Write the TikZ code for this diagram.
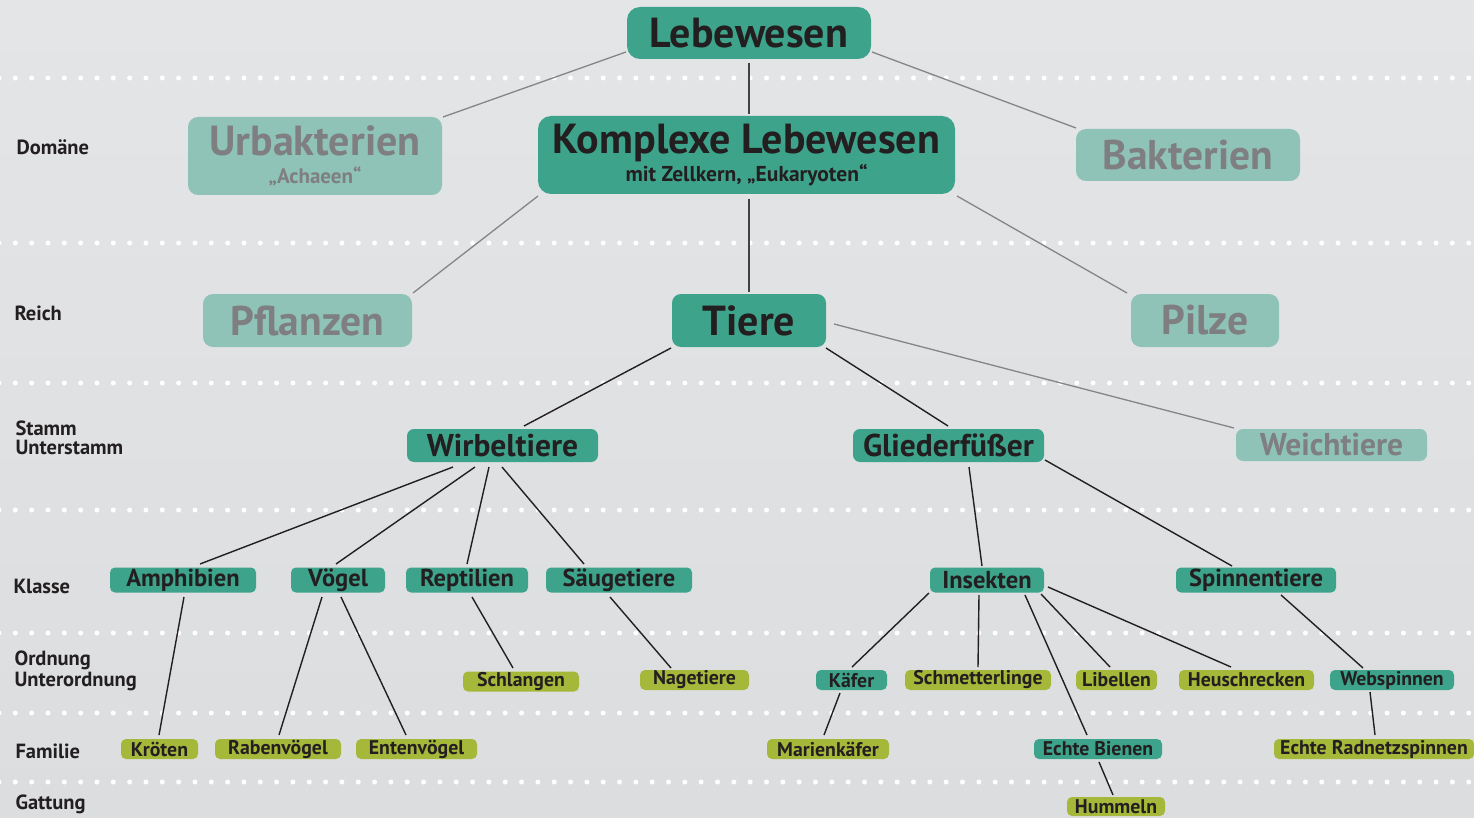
\documentclass[tikz,border=0pt]{standalone}
\usepackage{fontspec}
\setmainfont{PT Sans}
\usetikzlibrary{positioning}

\definecolor{bgtop}{HTML}{E4E5E7}
\definecolor{bgbot}{HTML}{DCDDDF}
\definecolor{teal}{HTML}{3DA38B}
\definecolor{tealpale}{HTML}{8FC3B7}
\definecolor{olive}{HTML}{A5B83A}
\definecolor{ink}{HTML}{231F20}
\definecolor{fade}{HTML}{7F7E80}
\definecolor{wire}{HTML}{858585}

\newcommand\fs[2][]{\fontsize{#2}{#2}\selectfont\bfseries}

\begin{document}
\begin{tikzpicture}[x=1pt,y=-1pt,
  box/.style={rounded corners=5pt,inner sep=0pt,align=center,text=ink},
  top/.style={box,fill=teal,rounded corners=13pt,font=\fs{42}},
  pale/.style={box,fill=tealpale,rounded corners=10pt,text=fade,font=\fs{41.5}},
  stem/.style={box,fill=teal,rounded corners=7pt,font=\fs{31.5}},
  palestem/.style={box,fill=tealpale,rounded corners=7pt,text=fade,font=\fs{31.5}},
  cls/.style={box,fill=teal,minimum height=25pt,font=\fs{24.5}},
  tlow/.style={box,fill=teal,minimum height=20pt,font=\fs{19.8}},
  glow/.style={box,fill=olive,minimum height=20pt,font=\fs{19.8}},
  rank/.style={anchor=west,align=left,text=ink,font=\fontsize{20.5}{18.5}\selectfont\bfseries},
  dk/.style={draw=ink,line width=1.4pt},
  mid/.style={draw=ink!85,line width=2pt},
  lt/.style={draw=wire,line width=1.3pt},
  dots/.style={draw=white,line width=5pt,line cap=round,dash pattern=on 0pt off 16.33pt}]

  % background and rank separators
  \shade[top color=bgtop,bottom color=bgbot] (0,0) rectangle (1474,818);
  \useasboundingbox (0,0) rectangle (1474,818);
  \foreach \yy in {78,243,383,510,633,713,782}
    \draw[dots] (-1,\yy) -- (1480,\yy);

  % ranks
  \node[rank] (rDom) at (13,147) {Domäne};
  \node[rank] (rRei) at (11,313) {Reich};
  \node[rank] (rSta) at (12,438) {Stamm\\Unterstamm};
  \node[rank] (rKla) at (10,586) {Klasse};
  \node[rank] (rOrd) at (11,671) {Ordnung\\[1.5pt]Unterordnung};
  \node[rank] (rFam) at (12,751) {Familie};
  \node[rank] (rGat) at (12,804) {Gattung};

  % domain and kingdom
  \node[top,minimum width=244pt,minimum height=52pt] (leb) at (749,33) {Lebewesen};
  \node[pale,minimum width=254pt,minimum height=78pt] (urb) at (315,156)
    {\fs{42}Urbakterien\\[-14pt]{\fs{21}„Achaeen“}};
  \node[top,minimum width=417pt,minimum height=78pt] (komp) at (746.5,155)
    {\fs{42}Komplexe Lebewesen\\[-14pt]{\fs{21.5}mit Zellkern, „Eukaryoten“}};
  \node[pale,minimum width=224pt,minimum height=52pt] (bak) at (1188,155) {Bakterien};
  \node[pale,minimum width=209pt,minimum height=53pt] (pfl) at (307.5,320.5) {Pflanzen};
  \node[top,rounded corners=9pt,minimum width=154pt,minimum height=53pt] (tiere) at (749,320.5) {Tiere};
  \node[pale,minimum width=148pt,minimum height=53pt] (pilze) at (1205,320.5) {Pilze};

  % phylum
  \node[stem,minimum width=191pt,minimum height=33pt] (wirb) at (502.5,445.5) {Wirbeltiere};
  \node[stem,minimum width=191pt,minimum height=33pt] (glied) at (948.5,445.5) {Gliederfüßer};
  \node[palestem,minimum width=191pt,minimum height=32pt] (weich) at (1331.5,445) {Weichtiere};

  % class
  \node[cls,minimum width=146pt] (amph) at (183,580) {Amphibien};
  \node[cls,minimum width=94pt] (voeg) at (338,580) {Vögel};
  \node[cls,minimum width=122pt] (rept) at (467,580) {Reptilien};
  \node[cls,minimum width=146pt] (saeug) at (619,580) {Säugetiere};
  \node[cls,minimum width=114pt] (ins) at (987,580) {Insekten};
  \node[cls,minimum width=160pt] (spinn) at (1256,580) {Spinnentiere};

  % order
  \node[glow,minimum width=116pt] (schl) at (521,681.5) {Schlangen};
  \node[glow,minimum width=109pt] (nage) at (694.5,680) {Nagetiere};
  \node[tlow,minimum width=71pt] (kaefer) at (851.5,680) {Käfer};
  \node[glow,minimum width=146pt] (schm) at (978,680) {Schmetterlinge};
  \node[glow,minimum width=81pt] (lib) at (1116.5,680) {Libellen};
  \node[glow,minimum width=135pt] (heu) at (1246.5,680) {Heuschrecken};
  \node[tlow,minimum width=124pt] (web) at (1392,680) {Webspinnen};

  % family and genus
  \node[glow,minimum width=77pt] (kroet) at (159.5,749) {Kröten};
  \node[glow,minimum width=126pt] (raben) at (278,749) {Rabenvögel};
  \node[glow,minimum width=121pt] (enten) at (416.5,749) {Entenvögel};
  \node[glow,minimum width=122pt] (mari) at (828,749) {Marienkäfer};
  \node[tlow,minimum width=128pt] (bien) at (1098,749) {Echte Bienen};
  \node[glow,minimum width=200pt] (radn) at (1374,749) {Echte Radnetzspinnen};
  \node[glow,minimum width=98pt,minimum height=19pt] (humm) at (1116,806.5) {Hummeln};

  % connectors
  \draw[lt] ([shift={(-123,19)}]leb.center) -- ([shift={(128,-39)}]urb.center);
  \draw[mid] ([shift={(0,30)}]leb.center) -- ([shift={(2.5,-41)}]komp.center);
  \draw[lt] ([shift={(123,19)}]leb.center) -- ([shift={(-112,-27)}]bak.center);
  \draw[lt] ([shift={(-208.5,41)}]komp.center) -- ([shift={(105.5,-27.5)}]pfl.center);
  \draw[mid] ([shift={(2.5,44)}]komp.center) -- ([shift={(0,-28.5)}]tiere.center);
  \draw[lt] ([shift={(210.5,41)}]komp.center) -- ([shift={(-78,-27.5)}]pilze.center);
  \draw[dk] ([shift={(-78,27.5)}]tiere.center) -- ([shift={(21.5,-19.5)}]wirb.center);
  \draw[dk] ([shift={(77,27.5)}]tiere.center) -- ([shift={(-0.5,-19.5)}]glied.center);
  \draw[lt] ([shift={(85,3.5)}]tiere.center) -- ([shift={(-97.5,-17)}]weich.center);
  \draw[dk] ([shift={(-49.5,21.5)}]wirb.center) -- ([shift={(17,-16)}]amph.center);
  \draw[dk] ([shift={(-27.5,21.5)}]wirb.center) -- ([shift={(-2,-16)}]voeg.center);
  \draw[dk] ([shift={(-13.5,21.5)}]wirb.center) -- ([shift={(0,-16)}]rept.center);
  \draw[dk] ([shift={(-0.5,21.5)}]wirb.center) -- ([shift={(-35,-16)}]saeug.center);
  \draw[dk] ([shift={(1,17)}]amph.center) -- ([shift={(-0.5,-14)}]kroet.center);
  \draw[dk] ([shift={(-16,17)}]voeg.center) -- ([shift={(1,-14)}]raben.center);
  \draw[dk] ([shift={(3,17)}]voeg.center) -- ([shift={(-10.5,-14)}]enten.center);
  \draw[dk] ([shift={(5,17)}]rept.center) -- ([shift={(-8,-13.5)}]schl.center);
  \draw[dk] ([shift={(-9,17)}]saeug.center) -- ([shift={(-23.5,-12)}]nage.center);
  \draw[dk] ([shift={(20.5,21.5)}]glied.center) -- ([shift={(-5,-14)}]ins.center);
  \draw[dk] ([shift={(96.5,14.5)}]glied.center) -- ([shift={(-24,-14)}]spinn.center);
  \draw[dk] ([shift={(-58,13)}]ins.center) -- ([shift={(0.5,-13)}]kaefer.center);
  \draw[dk] ([shift={(-8,15)}]ins.center) -- ([shift={(0,-13)}]schm.center);
  \draw[dk] ([shift={(38,15)}]ins.center) -- ([shift={(-11,-14)}]bien.center);
  \draw[dk] ([shift={(54,14)}]ins.center) -- ([shift={(-6.5,-13)}]lib.center);
  \draw[dk] ([shift={(61,7)}]ins.center) -- ([shift={(-15.5,-13)}]heu.center);
  \draw[dk] ([shift={(25,15)}]spinn.center) -- ([shift={(-29,-12)}]web.center);
  \draw[dk] ([shift={(-11.5,13)}]kaefer.center) -- ([shift={(-4,-14)}]mari.center);
  \draw[dk] ([shift={(-22,12)}]web.center) -- ([shift={(1,-14)}]radn.center);
  \draw[dk] ([shift={(1,13)}]bien.center) -- ([shift={(-3,-11.5)}]humm.center);
\end{tikzpicture}
\end{document}
